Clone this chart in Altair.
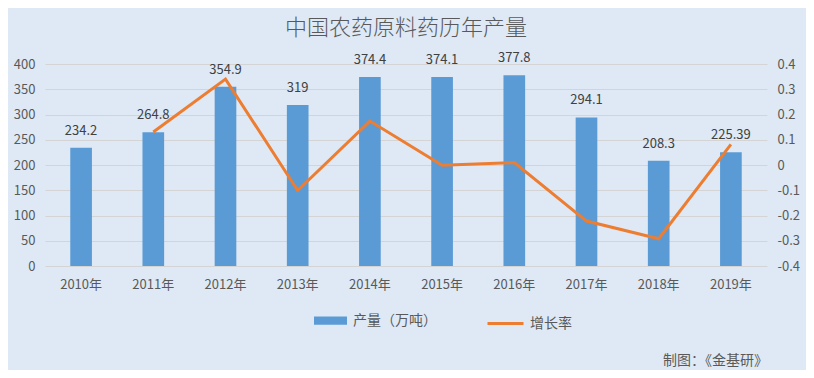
import altair as alt
import pandas as pd

TITLE = "中国农药原料药历年产量"
SOURCE = "制图：《金基研》"
years = ["2010年", "2011年", "2012年", "2013年", "2014年", "2015年", "2016年", "2017年", "2018年", "2019年"]
output = [234.2, 264.8, 354.9, 319, 374.4, 374.1, 377.8, 294.1, 208.3, 225.39]
output_labels = ["234.2", "264.8", "354.9", "319", "374.4", "374.1", "377.8", "294.1", "208.3", "225.39"]
growth = [None, 0.131, 0.340, -0.101, 0.174, -0.001, 0.010, -0.222, -0.292, 0.082]
left_ticks = [0, 50, 100, 150, 200, 250, 300, 350, 400]
right_ticks = [-0.4, -0.3, -0.2, -0.1, 0, 0.1, 0.2, 0.3, 0.4]
bar_name = "产量（万吨）"
line_name = "增长率"

FONT = "Noto Sans CJK SC"
TXT = "#595959"
BG = "#dee9f5"

df = pd.DataFrame({
    "year": years,
    "output": output,
    "label": output_labels,
    "growth": growth,
    "bar_series": [bar_name] * len(years),
    "line_series": [line_name] * len(years),
})

x_axis = alt.Axis(labelAngle=0, domain=False, ticks=False, labelPadding=12,
                  labelFontSize=13, labelColor=TXT, labelFont=FONT)
x_scale = alt.Scale(paddingInner=0.7, paddingOuter=0.35)
y_axis = alt.Axis(values=left_ticks, domain=False, ticks=False, grid=True,
                  gridColor="#d4d4d4", labelPadding=10, labelFontSize=13,
                  labelColor=TXT, labelFont=FONT, labelOverlap=False)
y_scale = alt.Scale(domain=[0, 400], nice=False)


def x_enc():
    return alt.X("year:N", sort=years, title=None, scale=x_scale, axis=x_axis)


def y_enc():
    return alt.Y("output:Q", title=None, scale=y_scale, axis=y_axis)


bars = alt.Chart(df).mark_bar().encode(
    x=x_enc(),
    y=y_enc(),
    color=alt.Color("bar_series:N",
                    scale=alt.Scale(domain=[bar_name], range=["#5b9bd5"]),
                    legend=alt.Legend(title=None, orient="none", legendX=269, legendY=240,
                                      symbolType="M-1,-0.25H1V0.25H-1Z", symbolSize=1089,
                                      symbolStrokeWidth=0, labelFontSize=14, labelColor=TXT,
                                      labelFont=FONT, labelOffset=6, padding=0)),
)

bar_text = alt.Chart(df).mark_text(baseline="bottom", dy=-10, fontSize=13, color="#404040", font=FONT).encode(
    x=x_enc(),
    y=y_enc(),
    text="label:N",
)

line = alt.Chart(df).mark_line(strokeWidth=3).encode(
    x=x_enc(),
    y=alt.Y("growth:Q", title=None,
            scale=alt.Scale(domain=[-0.4, 0.4], nice=False, zero=False),
            axis=alt.Axis(orient="right", values=right_ticks, domain=False, ticks=False, grid=False,
                          labelPadding=10, labelFontSize=13, labelColor=TXT, labelFont=FONT,
                          labelOverlap=False,
                          labelExpr="replace(format(datum.value, '.1~f'), '\u2212', '-')")),
    stroke=alt.Stroke("line_series:N",
                      scale=alt.Scale(domain=[line_name], range=["#ed7d31"]),
                      legend=alt.Legend(title=None, orient="none", legendX=441, legendY=240,
                                        symbolType="stroke", symbolSize=1296, symbolStrokeWidth=3,
                                        labelFontSize=14, labelColor=TXT, labelFont=FONT,
                                        labelOffset=5, padding=0)),
)

src = alt.Chart(pd.DataFrame({"t": [SOURCE]})).mark_text(
    align="right", baseline="middle", fontSize=14, color=TXT, font=FONT
).encode(x=alt.value(723), y=alt.value(297), text="t:N")

chart = alt.layer(alt.layer(bars, bar_text), line, src).resolve_scale(
    y="independent", color="independent", stroke="independent"
).properties(
    width=722, height=202,
    padding={"left": 37, "top": 56, "right": 39, "bottom": 104},
    autosize=alt.AutoSizeParams(type="none"),
    background=BG,
    title=alt.TitleParams(TITLE, fontSize=22, color=TXT, font=FONT, fontWeight=300,
                          anchor="middle", frame="group", offset=12),
).configure_view(stroke=None)

chart.save("out.html", embed_options={"renderer": "svg", "actions": False})
